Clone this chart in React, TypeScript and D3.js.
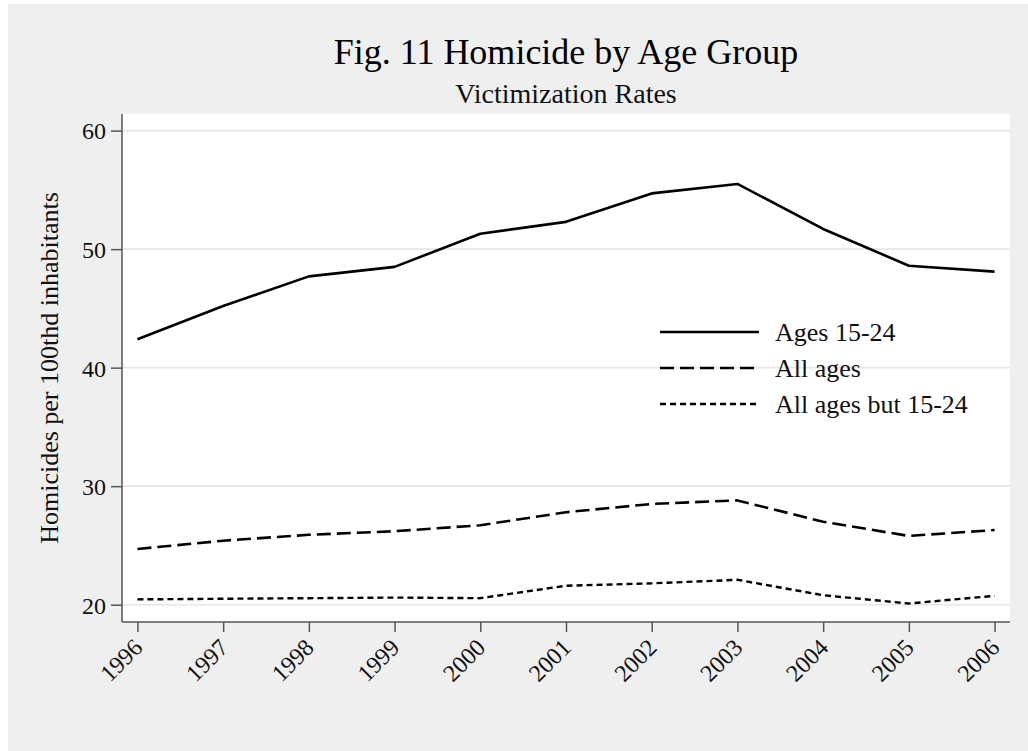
import React, { useEffect, useRef } from 'react';
import * as d3 from 'd3';

// values
const years = [1996, 1997, 1998, 1999, 2000, 2001, 2002, 2003, 2004, 2005, 2006];
const ages1524 = [42.4, 45.2, 47.7, 48.5, 51.3, 52.3, 54.7, 55.5, 51.7, 48.6, 48.1];
const allAges = [24.7, 25.4, 25.9, 26.2, 26.7, 27.8, 28.5, 28.8, 27.0, 25.8, 26.3];
const allButYouth = [20.45, 20.5, 20.55, 20.6, 20.55, 21.6, 21.8, 22.1, 20.8, 20.1, 20.75];
const yTicks = [20, 30, 40, 50, 60];
const seriesNames = ['Ages 15-24', 'All ages', 'All ages but 15-24'];

const FONT = '"Liberation Serif", "Times New Roman", serif';

const App: React.FC = () => {
    const svgRef = useRef<SVGSVGElement>(null);

    useEffect(() => {
        if (!svgRef.current) return;
        const svg = d3.select(svgRef.current);
        svg.selectAll('*').remove();

        const width = 1028;
        const height = 751;
        const plot = { left: 122, right: 1010, top: 114, bottom: 622 };

        svg.append('rect').attr('width', width).attr('height', height).attr('fill', '#ffffff');
        svg.append('rect').attr('x', 8).attr('y', 4).attr('width', width - 8).attr('height', height - 4).attr('fill', '#efefef');
        svg.append('rect')
            .attr('x', plot.left).attr('y', plot.top)
            .attr('width', plot.right - plot.left).attr('height', plot.bottom - plot.top)
            .attr('fill', '#ffffff');

        const x = d3.scaleLinear().domain([1995.82, 2006.18]).range([plot.left, plot.right]);
        const y = d3.scaleLinear().domain([18.54, 61.4]).range([plot.bottom, plot.top]);

        // gridlines
        svg.append('g')
            .selectAll('line')
            .data(yTicks)
            .join('line')
            .attr('x1', plot.left).attr('x2', plot.right)
            .attr('y1', d => y(d)).attr('y2', d => y(d))
            .attr('stroke', '#e6e6e6')
            .attr('stroke-width', 1.6);

        // y axis
        const yAxis = svg.append('g')
            .attr('transform', `translate(${plot.left},0)`)
            .call(d3.axisLeft(y).tickValues(yTicks).tickSize(11).tickPadding(5).tickSizeOuter(0));
        yAxis.select('.domain').remove();
        yAxis.append('line')
            .attr('x1', 0).attr('x2', 0).attr('y1', plot.top).attr('y2', plot.bottom)
            .attr('stroke', '#555').attr('stroke-width', 1.5);
        yAxis.selectAll('.tick line').attr('stroke', '#555').attr('stroke-width', 1.5);
        yAxis.selectAll('.tick text')
            .attr('font-family', FONT).attr('font-size', 24).attr('fill', '#111')
            .attr('dy', '0.35em');

        // x axis
        const xAxis = svg.append('g')
            .attr('transform', `translate(0,${plot.bottom})`)
            .call(d3.axisBottom(x).tickValues(years).tickFormat(d3.format('d')).tickSize(10).tickSizeOuter(0));
        xAxis.select('.domain').remove();
        xAxis.append('line')
            .attr('x1', plot.left).attr('x2', plot.right).attr('y1', 0).attr('y2', 0)
            .attr('stroke', '#555').attr('stroke-width', 1.5);
        xAxis.selectAll('.tick line').attr('stroke', '#555').attr('stroke-width', 1.5);
        xAxis.selectAll('.tick text')
            .attr('font-family', FONT).attr('font-size', 24).attr('fill', '#111')
            .attr('text-anchor', 'end')
            .attr('dy', null)
            .attr('y', 0)
            .attr('transform', 'translate(6,27) rotate(-45)');

        // lines
        const series = [
            { name: seriesNames[0], values: ages1524, dash: null, width: 2.6 },
            { name: seriesNames[1], values: allAges, dash: '14 6', width: 2.6 },
            { name: seriesNames[2], values: allButYouth, dash: '6 4', width: 2.4 },
        ];
        const line = d3.line<number>()
            .x((_, i) => x(years[i]))
            .y(d => y(d));

        svg.append('g')
            .selectAll('path')
            .data(series)
            .join('path')
            .attr('d', d => line(d.values))
            .attr('fill', 'none')
            .attr('stroke', '#000')
            .attr('stroke-width', d => d.width)
            .attr('stroke-dasharray', d => d.dash)
            .attr('stroke-linejoin', 'round');

        // legend
        const legend = svg.append('g').attr('transform', 'translate(660,332)');
        const rows = legend.selectAll('g').data(series).join('g')
            .attr('transform', (_, i) => `translate(0,${i * 36})`);
        rows.append('line')
            .attr('x1', 0).attr('x2', 99).attr('y1', 0).attr('y2', 0)
            .attr('stroke', '#000')
            .attr('stroke-width', d => d.width)
            .attr('stroke-dasharray', d => d.dash);
        rows.append('text')
            .attr('x', 115).attr('y', 0).attr('dy', '0.35em')
            .attr('font-family', FONT).attr('font-size', 26).attr('fill', '#111')
            .text(d => d.name);

        // titles
        const cx = (plot.left + plot.right) / 2;
        svg.append('text')
            .attr('x', cx).attr('y', 64)
            .attr('text-anchor', 'middle')
            .attr('font-family', FONT).attr('font-size', 36).attr('fill', '#000')
            .text('Fig. 11 Homicide by Age Group');
        svg.append('text')
            .attr('x', cx).attr('y', 103)
            .attr('text-anchor', 'middle')
            .attr('font-family', FONT).attr('font-size', 28).attr('fill', '#111')
            .text('Victimization Rates');
        svg.append('text')
            .attr('transform', `translate(58,${(plot.top + plot.bottom) / 2}) rotate(-90)`)
            .attr('text-anchor', 'middle')
            .attr('font-family', FONT).attr('font-size', 26).attr('fill', '#111')
            .text('Homicides per 100thd inhabitants');
    }, []);

    return (
        <svg
            ref={svgRef}
            width={1028}
            height={751}
            style={{ position: 'fixed', left: 0, top: 0, display: 'block' }}
        />
    );
};

export default App;
